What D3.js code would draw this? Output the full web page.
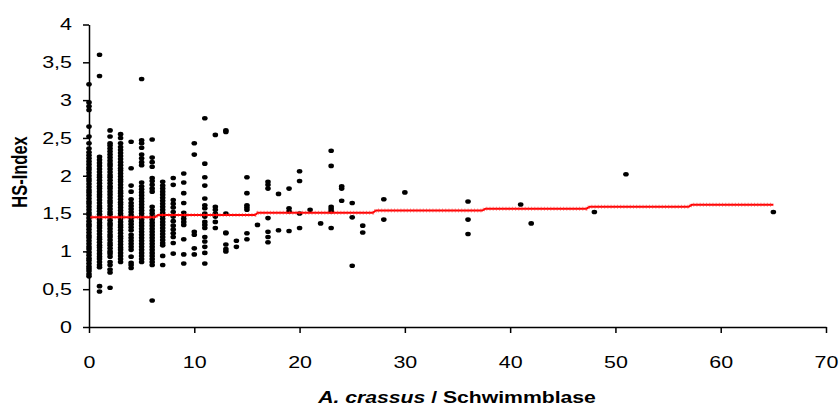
<!DOCTYPE html>
<html>
<head>
<meta charset="utf-8">
<script src="https://cdn.jsdelivr.net/npm/d3@7"></script>
<style>
  html, body { margin: 0; padding: 0; background: #fff; }
  svg { display: block; font-family: Arial, "Liberation Sans", sans-serif; }
</style>
</head>
<body>
<svg id="chart" width="839" height="408"></svg>
<script>
// HS-Index of each eel, grouped by the number of A. crassus found in the swim bladder
const hs_0 = [0.67,0.70,0.74,0.77,0.80,0.84,0.88,0.91,0.95,0.99,1.03,1.06,1.10,1.14,1.18,1.21,1.25,1.29,1.33,1.36,1.40,1.44,1.48,1.51,1.55,1.59,1.63,1.66,1.70,1.74,1.78,1.81,1.85,1.89,1.93,1.96,2.00,2.04,2.08,2.11,2.15,2.19,2.23,2.27,2.31,2.36,2.43,2.52,2.65,2.87,2.92,2.97,3.21];
const hs_1 = [0.47,0.54,0.79,0.82,0.86,0.90,0.93,0.97,1.01,1.05,1.08,1.12,1.16,1.19,1.23,1.27,1.31,1.34,1.38,1.42,1.45,1.49,1.53,1.57,1.60,1.64,1.68,1.72,1.75,1.79,1.83,1.86,1.90,1.94,1.98,2.01,2.05,2.09,2.13,2.17,2.21,2.25,3.32,3.60];
const hs_2 = [0.52,0.72,0.76,0.82,0.86,0.93,0.97,1.00,1.04,1.08,1.11,1.15,1.19,1.22,1.26,1.30,1.34,1.37,1.41,1.45,1.49,1.52,1.56,1.60,1.64,1.67,1.71,1.75,1.79,1.83,1.86,1.90,1.94,1.98,2.01,2.05,2.09,2.13,2.16,2.20,2.24,2.28,2.32,2.36,2.40,2.43,2.52,2.60];
const hs_3 = [0.86,0.90,0.94,0.98,1.02,1.05,1.09,1.13,1.17,1.20,1.24,1.28,1.32,1.35,1.39,1.43,1.47,1.50,1.54,1.58,1.62,1.65,1.69,1.73,1.77,1.80,1.84,1.88,1.92,1.95,1.99,2.03,2.07,2.10,2.14,2.18,2.22,2.26,2.30,2.34,2.38,2.43,2.50,2.55];
const hs_4 = [0.78,0.82,0.85,0.93,1.02,1.06,1.10,1.14,1.18,1.22,1.28,1.32,1.36,1.40,1.44,1.48,1.52,1.56,1.60,1.64,1.69,1.79,1.87,2.10,2.45];
const hs_5 = [0.86,0.90,0.94,0.98,1.02,1.06,1.10,1.14,1.18,1.22,1.26,1.30,1.34,1.38,1.42,1.46,1.50,1.54,1.58,1.62,1.66,1.70,1.74,1.78,1.82,1.86,1.91,2.14,2.18,2.23,2.28,2.37,2.43,2.47,3.28];
const hs_6 = [0.35,0.82,0.86,0.90,0.94,0.98,1.02,1.06,1.10,1.14,1.18,1.22,1.26,1.30,1.34,1.38,1.42,1.46,1.50,1.54,1.59,1.79,1.83,1.88,1.93,1.97,2.12,2.18,2.24,2.48];
const hs_7 = [0.82,0.94,1.08,1.11,1.15,1.19,1.23,1.27,1.31,1.35,1.39,1.43,1.47,1.51,1.55,1.59,1.63,1.67,1.71,1.75,1.79,1.83,1.87,1.92];
const hs_8 = [0.97,1.11,1.19,1.24,1.29,1.34,1.40,1.46,1.52,1.58,1.63,1.68,1.88,1.97];
const hs_9 = [0.84,0.96,1.16,1.35,1.39,1.43,1.47,1.51,1.64,1.77,1.91,2.03];
const hs_10 = [0.96,1.04,1.22,1.26,2.28,2.43];
const hs_11 = [0.84,0.98,1.06,1.13,1.19,1.31,1.35,1.39,1.46,1.50,1.57,1.61,1.70,1.87,1.98,2.16,2.76];
const hs_12 = [1.31,1.39,1.46,1.50,1.55,1.59,2.54];
const hs_13 = [1.00,1.03,1.09,1.24,1.25,1.50,2.58,2.60];
const hs_14 = [1.06,1.14];
const denseCounts = [0,1,2,3,4,5,6,7,8,9,10,11,12,13,14];
const denseColumns = [hs_0,hs_1,hs_2,hs_3,hs_4,hs_5,hs_6,hs_7,hs_8,hs_9,hs_10,hs_11,hs_12,hs_13,hs_14];

// Sparser eels with heavier infection
const tailCounts = [15,15,15,15,15,15,15,16,17,17,17,17,17,17,17,18,18,19,19,19,19,20,20,20,20,21,22,23,23,23,23,23,23,24,24,24,25,25,25,26,26,28,28,30,36,36,36,41,42,48,51,65];
const tailHs     = [1.98,1.77,1.61,1.58,1.55,1.24,1.16,1.35,1.92,1.88,1.83,1.44,1.26,1.19,1.12,1.76,1.28,1.83,1.57,1.53,1.27,2.06,1.93,1.50,1.31,1.55,1.37,2.33,2.13,1.59,1.56,1.53,1.31,1.86,1.83,1.67,1.64,1.45,0.81,1.34,1.25,1.69,1.42,1.78,1.66,1.42,1.23,1.62,1.37,1.52,2.02,1.52];

// Fitted HS-Index (red step line)
const trendX = [0,6.25,6.55,15.75,16.05,26.95,27.25,37.35,37.65,47.25,47.55,56.95,57.25,65];
const trendY = [1.45,1.45,1.48,1.48,1.51,1.51,1.54,1.54,1.565,1.565,1.59,1.59,1.615,1.615];

// Axis ticks
const xTicks = [0,10,20,30,40,50,60,70];
const yTicks = [0,0.5,1,1.5,2,2.5,3,3.5,4];
const yTickLabels = ["0","0,5","1","1,5","2","2,5","3","3,5","4"];

const points = [];
denseColumns.forEach((col, i) => col.forEach(v => points.push({n: denseCounts[i], hs: v})));
tailCounts.forEach((n, i) => points.push({n, hs: tailHs[i]}));

const svg = d3.select("#chart");
const x = d3.scaleLinear().domain([0, 70]).range([89, 826]);
const y = d3.scaleLinear().domain([0, 4]).range([327, 24.5]);
const SX = 1.3; // horizontal widening of the lettering

// Points
svg.append("g")
  .selectAll("ellipse")
  .data(points)
  .join("ellipse")
  .attr("cx", d => x(d.n))
  .attr("cy", d => y(d.hs))
  .attr("rx", 2.8)
  .attr("ry", 2.3)
  .attr("fill", "#000");

// Trend line
const line = d3.line().x(d => x(d[0])).y(d => y(d[1]));
const trend = trendX.map((v, i) => [v, trendY[i]]);
svg.append("path")
  .attr("d", line(trend))
  .attr("fill", "none")
  .attr("stroke", "#ff0000")
  .attr("stroke-width", 2);
svg.append("path")
  .attr("d", line(trend))
  .attr("fill", "none")
  .attr("stroke", "#ff3030")
  .attr("stroke-opacity", 0.55)
  .attr("stroke-width", 4)
  .attr("stroke-dasharray", "1 2.2");

// Axes
const yAxis = svg.append("g")
  .attr("transform", `translate(${x(0)},0)`)
  .call(d3.axisLeft(y).tickValues(yTicks).tickSize(6).tickSizeOuter(0).tickPadding(11)
    .tickFormat((d, i) => yTickLabels[i]));
const xAxis = svg.append("g")
  .attr("transform", `translate(0,${y(0)})`)
  .call(d3.axisBottom(x).tickValues(xTicks).tickSize(6).tickSizeOuter(0).tickPadding(23)
    .tickFormat(d3.format("d")));
[yAxis, xAxis].forEach(g => {
  g.select(".domain").attr("stroke", "#000").attr("stroke-width", 1.5);
  g.selectAll(".tick line").attr("stroke", "#000").attr("stroke-width", 1.5);
  g.selectAll(".tick text").attr("fill", "#000")
    .style("font-size", "16.5px")
    .style("font-family", "Arial, 'Liberation Sans', sans-serif")
    .each(function() {
      const t = d3.select(this);
      const tx = +t.attr("x") || 0;
      t.attr("x", tx / SX).attr("transform", `scale(${SX},1)`);
    });
});

// Axis titles
svg.append("text")
  .attr("transform", `translate(27,172) scale(${SX},1) rotate(-90)`)
  .attr("text-anchor", "middle")
  .style("font-size", "16.5px")
  .style("font-weight", "bold")
  .text("HS-Index");

const xt = svg.append("text")
  .attr("transform", `translate(457,403) scale(${SX},1)`)
  .attr("text-anchor", "middle")
  .style("font-size", "16.3px")
  .style("font-weight", "bold");
xt.append("tspan").style("font-style", "italic").text("A. crassus");
xt.append("tspan").text(" / Schwimmblase");
</script>
</body>
</html>
